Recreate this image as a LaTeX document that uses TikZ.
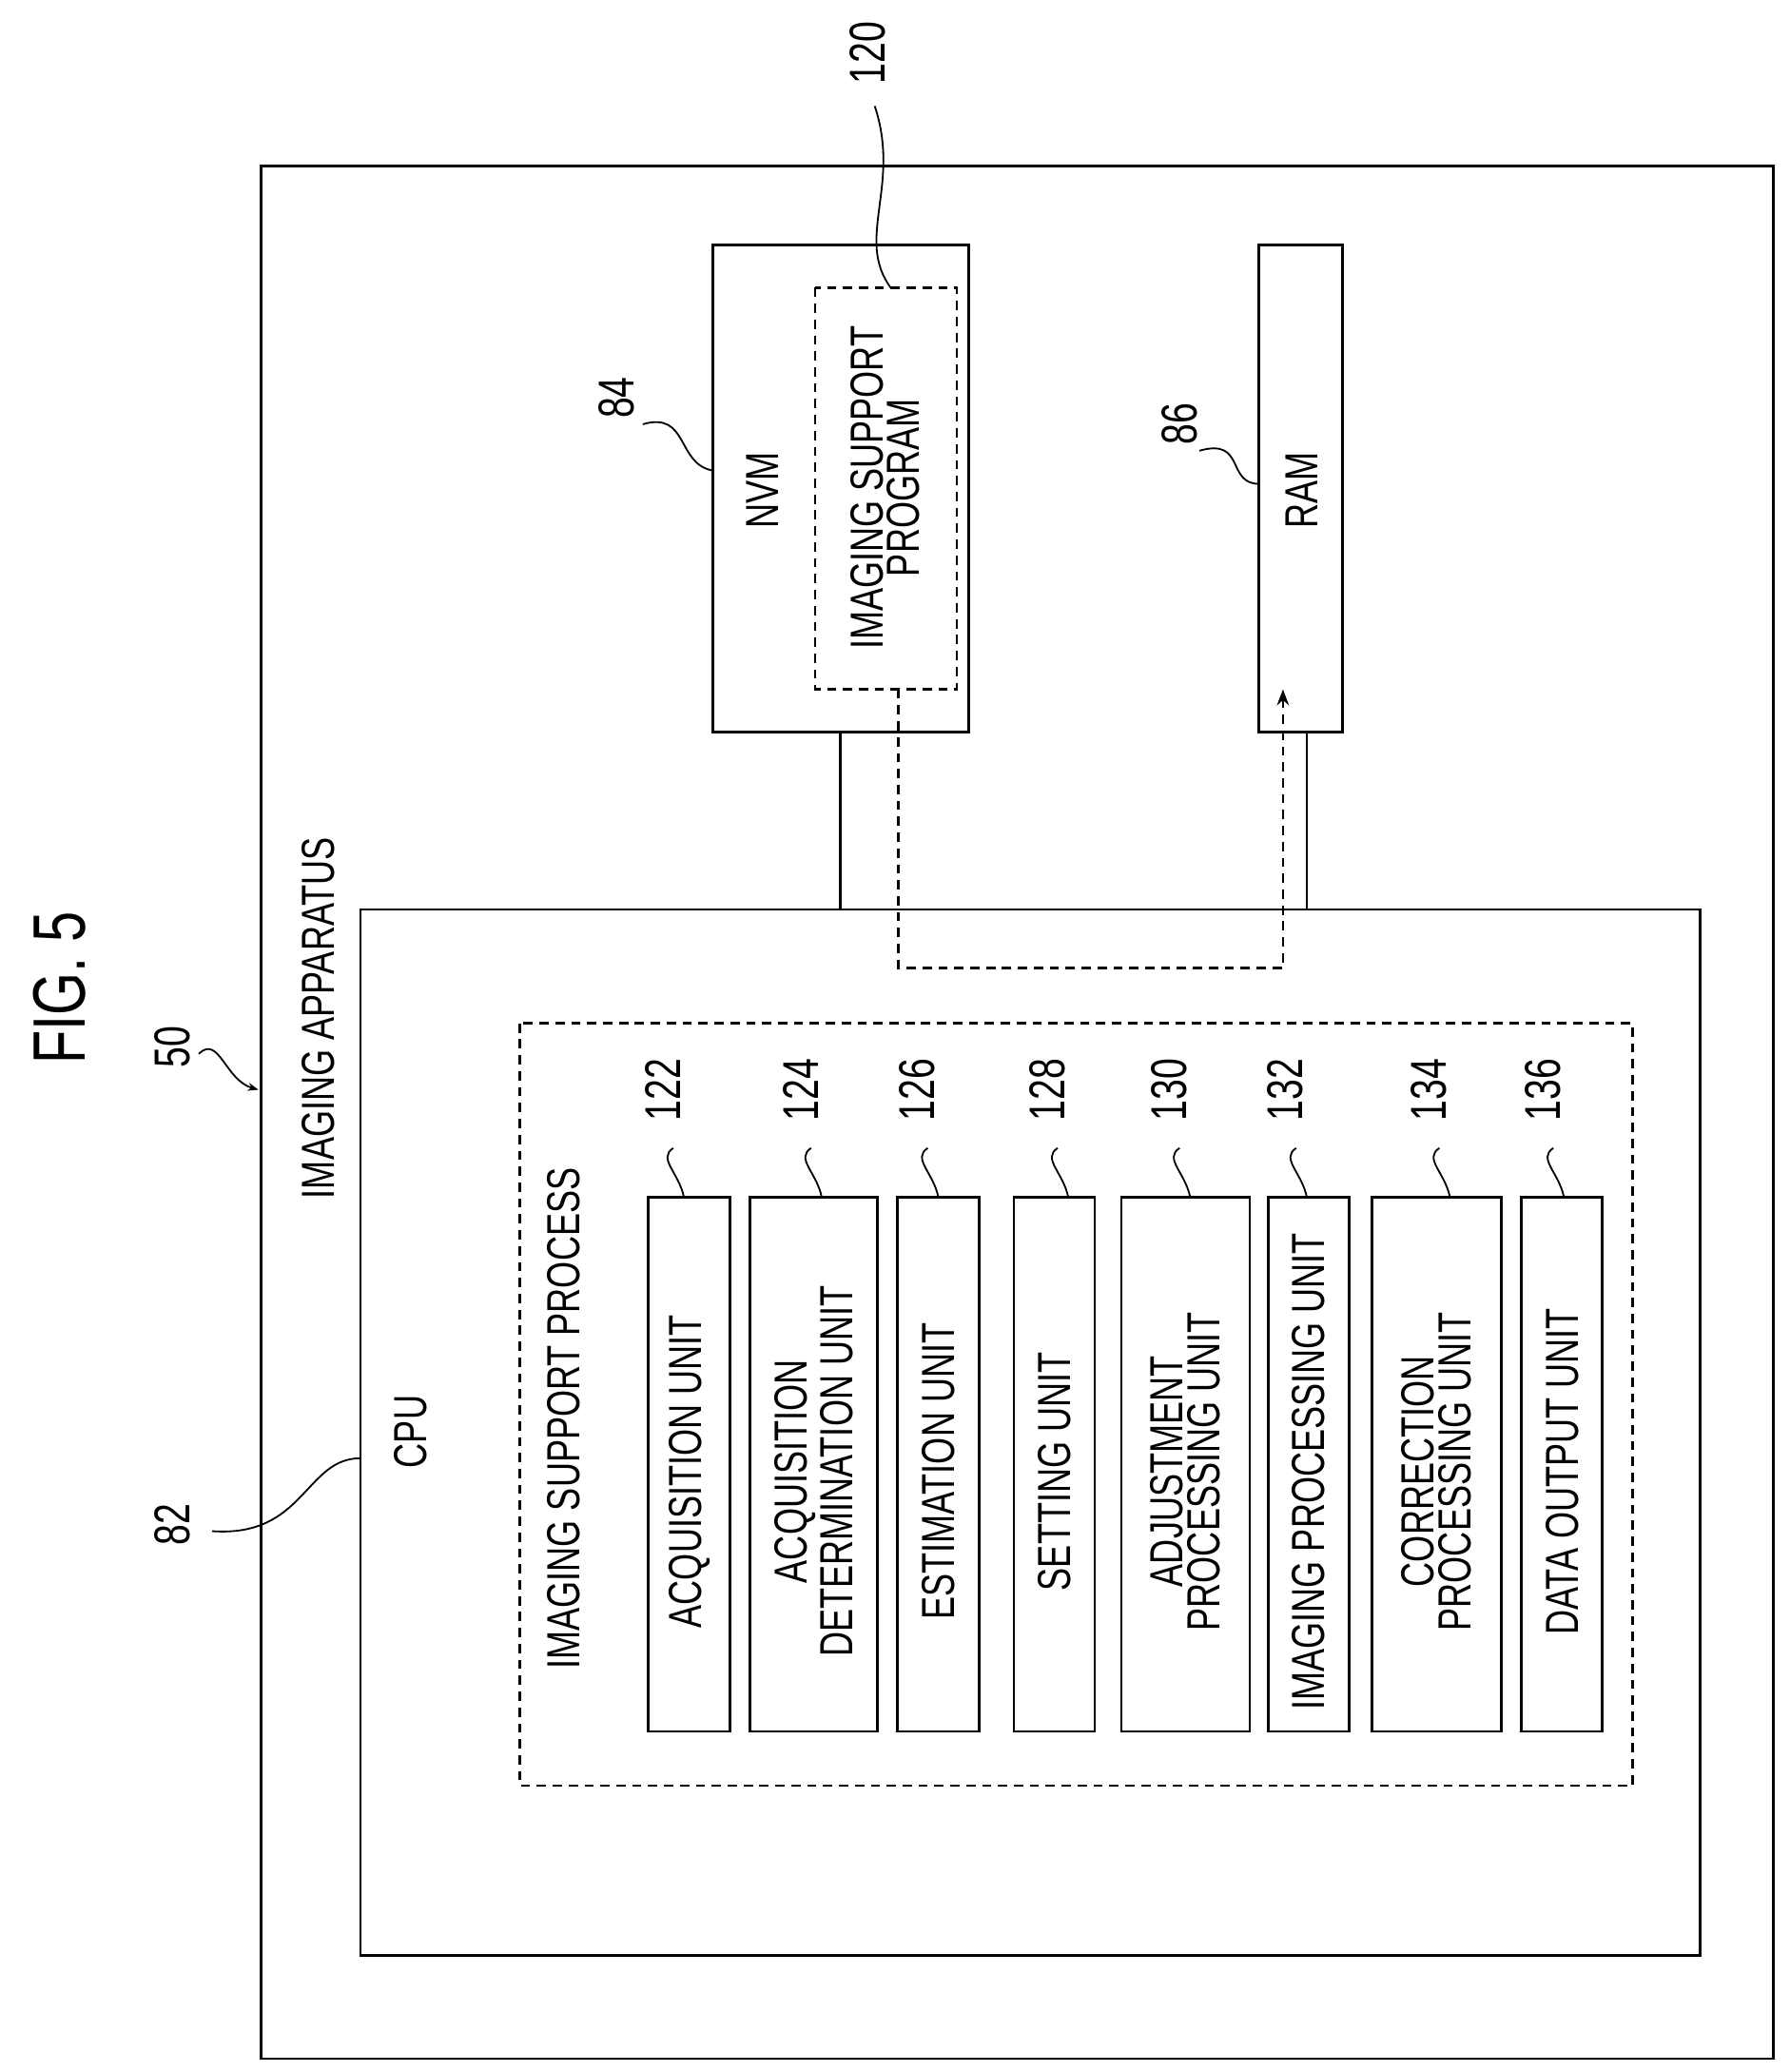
\documentclass[tikz,border=0pt]{standalone}
\usepackage{fontspec}
\setmainfont{Liberation Sans}
\usepackage{graphicx}
\usetikzlibrary{arrows.meta}
\newcommand{\cn}[1]{\scalebox{0.74}[1]{#1}}
\begin{document}
\begin{tikzpicture}[x=1pt,y=-1pt,line width=2pt,
  box/.style={draw},
  dbox/.style={draw,dash pattern=on 7pt off 5pt},
  lab/.style={rotate=90,inner sep=0,font=\fontsize{35}{33}\selectfont,align=center},
  num/.style={rotate=90,inner sep=0,font=\fontsize{38}{38}\selectfont},
  lead/.style={line width=1.3pt}]
\useasboundingbox (0,0) rectangle (1350,1563);
% boxes
\draw[box] (197,125) coordinate (oa) rectangle (1338,1553);
\draw[box] (272,686) coordinate (cpu) rectangle (1283,1475);
\draw[dbox] (392,772) rectangle (1232,1347);
\draw[box] (538,185) coordinate (nvm) rectangle (731,552);
\draw[dbox] (615,217) rectangle (722,520);
\draw[box] (950,185) coordinate (ram) rectangle (1013,552);
\coordinate (n1) at (634,552); \coordinate (n2) at (634,686);
\coordinate (r1) at (986,552); \coordinate (r2) at (986,686);
\draw (n1)--(n2); \draw (r1)--(r2);
\coordinate (p1) at (678,520); \coordinate (p2) at (968,520);
\draw[dbox,-{Stealth[length=12pt,width=9pt]}] (p1)--(678,730)--(968,730)--(p2);
% units
\foreach \a/\b/\t/\n/\m in {489/551/{ACQUISITION UNIT}/122/500,
  566/662/{ACQUISITION\\DETERMINATION UNIT}/124/604,
  677/739/{ESTIMATION UNIT}/126/692,
  765/826/{SETTING UNIT}/128/790,
  846/943/{ADJUSTMENT\\PROCESSING UNIT}/130/882,
  957/1018/{IMAGING PROCESSING UNIT}/132/970,
  1035/1133/{CORRECTION\\PROCESSING UNIT}/134/1078,
  1148/1209/{DATA OUTPUT UNIT}/136/1164}{
  \draw[box] (\a,903) rectangle (\b,1306);
  \node[lab] (u\n) at ({(\a+\b)/2},1110) {\cn{\shortstack{\t}}};
  \node[num] (l\n) at (\m,822) {\cn{\n}};
  \draw[lead] ({\m+8},866) .. controls ({\m-4},874) and ({\m+12},884) .. ({\m+16},903);
}
% texts
\node[lab] (isp) at (425,1070) {\cn{IMAGING SUPPORT PROCESS}};
\node[lab] (cpul) at (310,1080) {\cn{CPU}};
\node[lab] (ia) at (240,768) {\cn{IMAGING APPARATUS}};
\node[rotate=90,inner sep=0,font=\fontsize{56}{56}\selectfont] (fig) at (45,745) {\cn{FIG. 5}};
\node[lab] (nvml) at (575,370) {\cn{NVM}};
\node[lab] (prog) at (668,368) {\cn{\shortstack{IMAGING SUPPORT\\PROGRAM}}};
\node[lab] (raml) at (982,370) {\cn{RAM}};
\node[num] (n50) at (130,790) {\cn{50}};
\node[num] (n82) at (130,1150) {\cn{82}};
\node[num] (n84) at (465,300) {\cn{84}};
\node[num] (n86) at (890,320) {\cn{86}};
\node[num] (n120) at (655,40) {\cn{120}};
% leaders
\draw[lead,-{Stealth[length=8pt]}] (150,795) .. controls (165,780) and (170,815) .. (195,822);
\draw[lead] (160,1155) .. controls (230,1160) and (230,1100) .. (272,1100);
\draw[lead] (485,320) .. controls (520,310) and (510,350) .. (538,355);
\draw[lead] (905,340) .. controls (940,330) and (925,365) .. (950,365);
\draw[lead] (660,80) .. controls (680,140) and (645,180) .. (672,217);
\end{tikzpicture}
\end{document}
